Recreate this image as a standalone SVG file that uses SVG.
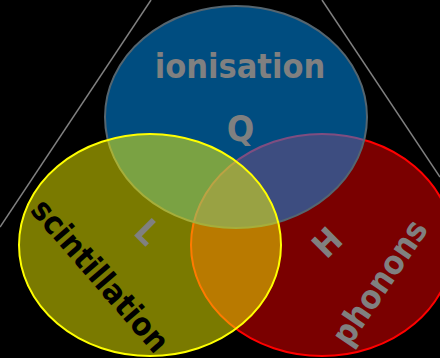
<svg xmlns="http://www.w3.org/2000/svg" width="440" height="358" viewBox="0 0 440 358">
<style>
.lbl{font-family:"DejaVu Sans Condensed","DejaVu Sans",sans-serif;font-weight:bold;fill:#808080;text-anchor:middle}
.ell{stroke-width:2}
</style>
<rect x="0" y="0" width="440" height="358" fill="#000"/>
<g id="connectors" stroke="#808080" stroke-width="1.5" fill="none">
<line x1="151" y1="0" x2="0" y2="227"/>
<line x1="322" y1="0" x2="440" y2="177"/>
</g>
<g id="phonons">
<ellipse class="ell" cx="322" cy="245" rx="131" ry="111" fill="#ff0000" fill-opacity="0.48" stroke="#ff0000"/>
</g>
<g id="ionisation">
<ellipse class="ell" cx="236" cy="117" rx="131" ry="111" fill="#0099ff" fill-opacity="0.5" stroke="#55656f"/>
</g>
<g id="scintillation">
<ellipse class="ell" cx="150" cy="245" rx="131" ry="111" fill="#ffff00" fill-opacity="0.48" stroke="#ffff00"/>
</g>
<g id="labels">
<text class="lbl" x="240" y="78" font-size="34">ionisation</text>
<text class="lbl" x="240.5" y="141" font-size="36">Q</text>
<text class="lbl" font-size="34" transform="translate(148,232) rotate(45)" y="12">L</text>
<text class="lbl" font-size="34" transform="translate(327,242.5) rotate(-45)" y="12">H</text>
<text class="lbl" font-size="32" style="fill:#000" transform="translate(101,275) rotate(49)" y="12">scintillation</text>
<text class="lbl" font-size="33" transform="translate(379,282) rotate(-56)" y="12">phonons</text>
</g>
</svg>
